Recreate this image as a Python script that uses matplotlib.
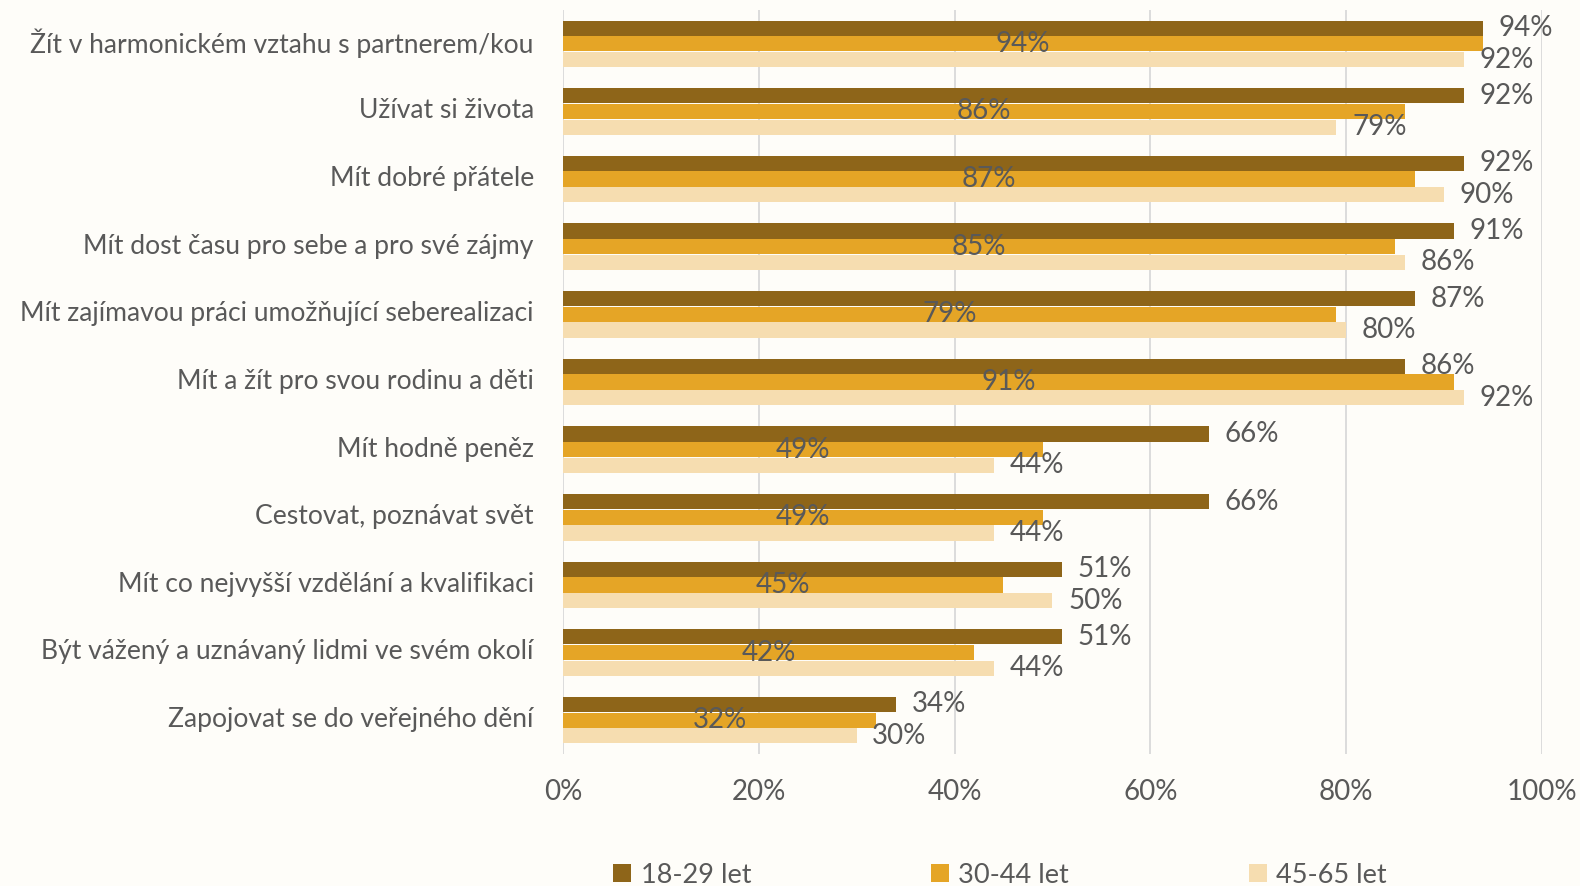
import numpy as np
import matplotlib.pyplot as plt
from matplotlib.ticker import PercentFormatter

categories = [
    "Žít v harmonickém vztahu s partnerem/kou",
    "Užívat si života",
    "Mít dobré přátele",
    "Mít dost času pro sebe a pro své zájmy",
    "Mít zajímavou práci umožňující seberealizaci",
    "Mít a žít pro svou rodinu a děti",
    "Mít hodně peněz",
    "Cestovat, poznávat svět",
    "Mít co nejvyšší vzdělání a kvalifikaci",
    "Být vážený a uznávaný lidmi ve svém okolí",
    "Zapojovat se do veřejného dění",
]
series = ["18-29 let", "30-44 let", "45-65 let"]
v_18_29 = [94, 92, 92, 91, 87, 86, 66, 66, 51, 51, 34]
v_30_44 = [94, 86, 87, 85, 79, 91, 49, 49, 45, 42, 32]
v_45_65 = [92, 79, 90, 86, 80, 92, 44, 44, 50, 44, 30]

colors = ["#8E6519", "#E5A526", "#F6DDB0"]
bg = "#FEFDF9"
txt = "#595959"
font = ["Lato", "DejaVu Sans"]
plt.rcParams["font.family"] = font

fig = plt.figure(figsize=(15.8, 8.86), dpi=100, facecolor=bg)
ax = fig.add_axes([0.3563, 0.149, 0.6196, 0.8397])
ax.set_facecolor(bg)

y = np.arange(len(categories))
h = 0.225
offs = [-0.232, 0.0, 0.232]
data = [v_18_29, v_30_44, v_45_65]

for k, (vals, c, off) in enumerate(zip(data, colors, offs)):
    bars = ax.barh(y + off, vals, height=h, color=c, label=series[k], zorder=3)
    for b, v in zip(bars, vals):
        cy = b.get_y() + b.get_height() / 2
        if k == 1:
            ax.text(v / 2, cy, f"{v}%", ha="center", va="center", fontsize=20,
                    color=txt, zorder=4)
        else:
            ax.text(v + 1.6, cy, f"{v}%", ha="left", va="center", fontsize=20,
                    color=txt, zorder=4)

ax.set_xlim(0, 100)
ax.set_ylim(len(categories) - 0.5, -0.5)
ax.set_xticks(np.arange(0, 101, 20))
ax.xaxis.set_major_formatter(PercentFormatter(decimals=0))
# category labels sit a touch above the group centre
ax.set_yticks(y - 0.045)
ax.set_yticklabels(categories, fontsize=19.1, color=txt)
for lab in ax.get_xticklabels():
    lab.set_fontsize(20)
    lab.set_color(txt)
ax.tick_params(axis="both", length=0)
ax.tick_params(axis="y", pad=21)
ax.tick_params(axis="x", pad=18)
ax.grid(axis="x", color="#D9D9D9", linewidth=1.3, zorder=0)
for s in ax.spines.values():
    s.set_visible(False)

leg = fig.legend(loc="center", bbox_to_anchor=(0.633, 0.012), ncol=3, frameon=False,
                 handlelength=0.65, handleheight=0.65, handletextpad=0.35,
                 columnspacing=6.65, prop={"size": 19.5})
for t in leg.get_texts():
    t.set_color(txt)

fig.savefig("out.png", dpi=100, facecolor=bg)
